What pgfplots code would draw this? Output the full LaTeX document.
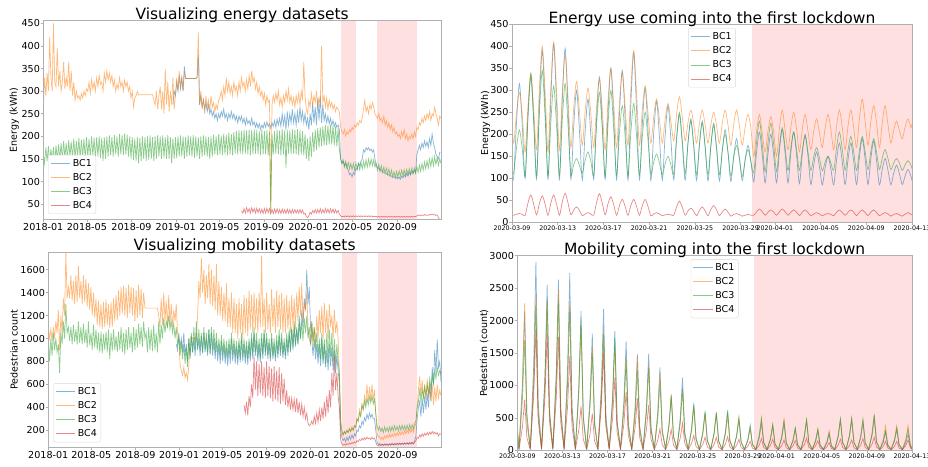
\documentclass[border=0pt]{standalone}
\usepackage{pgfplots}
\pgfplotsset{compat=1.18}
\usepackage{pgfplotstable}
\usepackage{fontspec}
\setmainfont{DejaVu Sans}
\definecolor{cA}{RGB}{31,119,180}
\definecolor{cB}{RGB}{255,127,14}
\definecolor{cC}{RGB}{44,160,44}
\definecolor{cD}{RGB}{214,39,40}
\definecolor{band}{RGB}{255,224,224}
\definecolor{spine}{RGB}{176,176,176}
\tikzset{
  s1/.style={color=cA, line width=0.7pt, opacity=0.55},
  s2/.style={color=cB, line width=0.7pt, opacity=0.55},
  s3/.style={color=cC, line width=0.7pt, opacity=0.55},
  s4/.style={color=cD, line width=0.7pt, opacity=0.55},
}

\pgfplotstableread{
w b1 b2 b3 b4
0 nan 260 160 nan
0.5 nan 330 140 nan
1 nan 290 175 nan
1.5 nan 340 145 nan
2 nan 300 178 nan
2.5 nan 420 142 nan
3 nan 330 172 nan
3.5 nan 300 145 nan
4 nan 450 176 nan
4.5 nan 320 140 nan
5 nan 310 180 nan
5.5 nan 395 148 nan
6 nan 310 182 nan
6.5 nan 345 150 nan
7 nan 300 185 nan
7.5 nan 320 148 nan
8 nan 365 190 nan
8.5 nan 305 152 nan
9 nan 330 185 nan
9.5 nan 310 150 nan
10 nan 365 192 nan
10.5 nan 300 155 nan
11 nan 345 188 nan
11.5 nan 290 152 nan
12 nan 320 195 nan
12.5 nan 280 150 nan
13 nan 300 190 nan
13.5 nan 285 155 nan
14 nan 290 196 nan
14.5 nan 280 152 nan
15 nan 295 192 nan
15.5 nan 285 155 nan
16 nan 300 195 nan
16.5 nan 290 150 nan
17 nan 305 198 nan
17.5 nan 300 155 nan
18 nan 320 195 nan
18.5 nan 295 152 nan
19 nan 325 200 nan
19.5 nan 305 158 nan
20 nan 320 196 nan
20.5 nan 300 150 nan
21 nan 330 198 nan
21.5 nan 310 155 nan
22 nan 335 200 nan
22.5 nan 315 152 nan
23 nan 320 196 nan
23.5 nan 300 145 nan
24 nan 340 198 nan
24.5 nan 320 150 nan
25 nan 345 200 nan
25.5 nan 325 155 nan
26 nan 340 202 nan
26.5 nan 320 158 nan
27 nan 335 198 nan
27.5 nan 310 155 nan
28 nan 325 203 nan
28.5 nan 300 160 nan
29 nan 315 200 nan
29.5 nan 305 155 nan
30 nan 330 205 nan
30.5 nan 310 160 nan
31 nan 320 203 nan
31.5 nan 300 158 nan
32 nan 325 206 nan
32.5 nan 310 160 nan
33 nan 320 204 nan
33.5 nan 300 155 nan
34 nan 310 200 nan
34.5 nan 285 150 nan
35 nan 300 198 nan
35.5 nan 265 148 nan
36 nan 285 195 nan
36.5 nan 290 145 nan
37 nan 300 198 nan
37.5 nan 292 140 nan
38 nan 292 196 nan
38.5 nan 292 145 nan
39 nan 292 200 nan
39.5 nan 292 150 nan
40 nan 292 198 nan
40.5 nan 292 145 nan
41 nan 292 200 nan
41.5 nan 292 148 nan
42 nan 292 202 nan
42.5 nan 292 150 nan
43 nan 292 198 nan
43.5 nan 280 145 nan
44 nan 270 200 nan
44.5 nan 300 150 nan
45 nan 260 203 nan
45.5 nan 290 155 nan
46 nan 310 200 nan
46.5 nan 260 150 nan
47 nan 300 202 nan
47.5 nan 250 152 nan
48 nan 350 198 nan
48.5 nan 270 150 nan
49 nan 320 203 nan
49.5 nan 255 150 nan
50 nan 300 198 nan
50.5 nan 270 140 nan
51 270 330 195 nan
51.5 300 260 150 nan
52 290 290 198 nan
52.5 320 330 152 nan
53 300 300 200 nan
53.5 335 345 155 nan
54 305 310 202 nan
54.5 330 330 155 nan
55 300 300 200 nan
55.5 355 340 150 nan
56 328 328 198 nan
56.5 328 328 155 nan
57 328 328 202 nan
57.5 328 328 158 nan
58 328 328 200 nan
58.5 328 328 155 nan
59 328 328 203 nan
59.5 328 328 152 nan
60 328 328 200 nan
60.5 330 330 155 nan
61 380 430 198 nan
61.5 270 270 150 nan
62 290 300 200 nan
62.5 265 260 155 nan
63 280 285 202 nan
63.5 260 250 158 nan
64 275 290 200 nan
64.5 255 265 155 nan
65 270 280 198 nan
65.5 250 255 150 nan
66 260 290 200 nan
66.5 245 265 155 nan
67 255 275 203 nan
67.5 240 255 160 nan
68 250 270 200 nan
68.5 235 260 158 nan
69 250 280 205 nan
69.5 240 285 160 nan
70 255 300 202 nan
70.5 245 280 158 nan
71 260 310 206 nan
71.5 240 290 160 nan
72 250 330 204 nan
72.5 235 300 158 nan
73 250 320 208 nan
73.5 240 295 160 nan
74 255 310 205 nan
74.5 240 290 158 nan
75 250 320 210 nan
75.5 235 300 162 nan
76 245 310 212 nan
76.5 230 290 160 nan
77 245 320 214 nan
77.5 235 300 162 nan
78 245 330 212 35
78.5 230 310 160 30
79 240 320 215 40
79.5 225 300 162 30
80 240 325 213 42
80.5 228 305 160 32
81 235 335 215 40
81.5 225 310 158 30
82 240 345 214 42
82.5 225 320 160 32
83 232 330 216 40
83.5 220 305 162 30
84 230 320 214 41
84.5 218 295 160 31
85 228 310 212 40
85.5 215 290 158 30
86 225 300 215 39
86.5 218 280 160 29
87 230 295 212 40
87.5 220 270 160 30
88 232 290 214 41
88.5 222 275 158 31
89 228 280 210 40
89.5 218 30 35 28
90 230 270 205 38
90.5 222 290 160 29
91 235 275 212 39
91.5 220 295 162 30
92 238 280 215 40
92.5 225 300 160 30
93 240 270 213 38
93.5 222 285 158 29
94 250 265 216 39
94.5 225 290 160 30
95 245 275 214 38
95.5 215 300 130 29
96 255 280 215 39
96.5 225 305 162 30
97 250 275 213 38
97.5 230 290 160 29
98 260 270 216 38
98.5 230 285 162 30
99 250 265 214 38
99.5 225 290 160 30
100 255 275 216 37
100.5 230 295 158 30
101 265 270 214 38
101.5 235 300 160 30
102 255 280 212 37
102.5 230 365 158 28
103 250 290 205 30
103.5 225 260 150 22
104 240 250 195 20
104.5 215 280 145 24
105 250 265 200 32
105.5 225 295 155 28
106 275 270 210 36
106.5 230 290 165 30
107 265 275 215 38
107.5 225 300 170 30
108 285 265 218 38
108.5 235 285 175 30
109 290 270 220 40
109.5 230 400 178 30
110 270 275 222 38
110.5 235 290 180 30
111 250 265 225 40
111.5 230 285 180 31
112 245 260 224 39
112.5 228 280 182 30
113 240 265 226 40
113.5 225 275 182 31
114 235 260 224 39
114.5 222 270 180 30
115 230 255 222 38
115.5 220 265 178 30
116 225 260 218 36
116.5 215 255 170 28
117 150 220 150 24
117.5 140 210 140 22
118 145 205 148 23
118.5 135 215 132 22
119 140 200 145 24
119.5 130 210 130 22
120 125 205 142 24
120.5 115 215 128 22
121 118 210 140 24
121.5 110 220 126 22
122 120 215 140 24
122.5 115 225 125 22
123 130 220 142 24
123.5 125 230 128 22
124 140 225 140 24
124.5 135 235 126 22
125 145 230 142 24
125.5 150 240 128 22
126 170 260 145 24
126.5 165 280 130 22
127 175 255 148 24
127.5 170 265 132 22
128 175 250 150 24
128.5 168 270 134 22
129 172 260 150 24
129.5 165 275 135 22
130 170 265 148 23
130.5 150 250 132 22
131 135 245 140 23
131.5 130 240 125 21
132 130 250 138 23
132.5 125 235 122 21
133 125 240 135 23
133.5 122 230 120 21
134 120 245 132 23
134.5 118 225 118 21
135 118 235 130 23
135.5 115 220 115 21
136 115 230 128 23
136.5 112 215 112 21
137 112 225 125 23
137.5 110 210 110 21
138 110 220 122 23
138.5 108 205 108 21
139 110 210 122 23
139.5 106 200 110 21
140 110 205 124 23
140.5 105 195 112 21
141 112 210 125 23
141.5 108 200 113 21
142 115 215 126 23
142.5 110 195 114 21
143 118 205 127 23
143.5 112 190 115 21
144 120 200 128 23
144.5 115 195 116 21
145 122 205 130 23
145.5 118 195 117 21
146 125 210 130 23
146.5 120 200 118 22
147 160 220 133 24
147.5 170 215 120 25
148 180 230 136 26
148.5 170 225 122 24
149 185 240 140 26
149.5 175 230 125 25
150 190 245 143 27
150.5 178 235 128 25
151 188 250 146 26
151.5 175 240 130 25
152 195 255 150 27
152.5 180 235 133 26
153 205 250 153 28
153.5 185 245 135 26
154 175 265 155 27
154.5 160 250 138 25
155 155 240 152 26
155.5 150 225 136 20
156 165 245 150 16
156.5 165 240 140 15
}\tabE

\pgfplotstableread{
w b1 b2 b3 b4
0 nan 1100 1000 nan
0.5 nan 1000 800 nan
1 nan 1080 1000 nan
1.5 nan 980 850 nan
2 nan 1100 1050 nan
2.5 nan 1000 900 nan
3 nan 1150 1000 nan
3.5 nan 1050 880 nan
4 nan 1250 950 nan
4.5 nan 900 700 nan
5 nan 1200 1050 nan
5.5 nan 1050 950 nan
6 nan 1350 1150 nan
6.5 nan 1200 1000 nan
7 nan 1750 1300 nan
7.5 nan 1350 1050 nan
8 nan 1450 1100 nan
8.5 nan 1350 980 nan
9 nan 1550 1100 nan
9.5 nan 1330 950 nan
10 nan 1500 1120 nan
10.5 nan 1300 970 nan
11 nan 1550 1080 nan
11.5 nan 1320 950 nan
12 nan 1630 1150 nan
12.5 nan 1350 960 nan
13 nan 1500 1100 nan
13.5 nan 1300 950 nan
14 nan 1550 1130 nan
14.5 nan 1320 960 nan
15 nan 1520 1080 nan
15.5 nan 1280 920 nan
16 nan 1480 1150 nan
16.5 nan 1250 940 nan
17 nan 1450 1050 nan
17.5 nan 1200 900 nan
18 nan 1400 1120 nan
18.5 nan 1180 920 nan
19 nan 1350 1080 nan
19.5 nan 1120 900 nan
20 nan 1330 1050 nan
20.5 nan 1100 880 nan
21 nan 1300 1060 nan
21.5 nan 1080 870 nan
22 nan 1320 1040 nan
22.5 nan 1100 900 nan
23 nan 1340 1060 nan
23.5 nan 1120 880 nan
24 nan 1300 1080 nan
24.5 nan 1090 820 nan
25 nan 1320 1050 nan
25.5 nan 1100 890 nan
26 nan 1350 1080 nan
26.5 nan 1150 900 nan
27 nan 1380 1020 nan
27.5 nan 1160 880 nan
28 nan 1420 1060 nan
28.5 nan 1200 900 nan
29 nan 1450 1100 nan
29.5 nan 1220 880 nan
30 nan 1460 1050 nan
30.5 nan 1200 860 nan
31 nan 1440 1080 nan
31.5 nan 1180 900 nan
32 nan 1470 1100 nan
32.5 nan 1220 920 nan
33 nan 1450 1050 nan
33.5 nan 1200 880 nan
34 nan 1440 1100 nan
34.5 nan 1150 900 nan
35 nan 1420 1080 nan
35.5 nan 1180 920 nan
36 nan 1470 1130 nan
36.5 nan 1200 950 nan
37 nan 1430 1100 nan
37.5 nan 1180 930 nan
38 nan 1400 1150 nan
38.5 nan 1270 1000 nan
39 nan 1265 1050 nan
39.5 nan 1265 880 nan
40 nan 1265 1100 nan
40.5 nan 1265 900 nan
41 nan 1265 1080 nan
41.5 nan 1265 890 nan
42 nan 1265 1120 nan
42.5 nan 1265 900 nan
43 nan 1265 1050 nan
43.5 nan 1265 880 nan
44 nan 1200 1150 nan
44.5 nan 1100 950 nan
45 nan 1350 1120 nan
45.5 nan 1120 1000 nan
46 nan 1400 1180 nan
46.5 nan 1150 1050 nan
47 nan 1330 1150 nan
47.5 nan 1100 1100 nan
48 nan 1380 1200 nan
48.5 nan 1120 1080 nan
49 nan 1300 1150 nan
49.5 nan 1100 1050 nan
50 nan 1250 1130 nan
50.5 nan 1150 1000 nan
51 950 1300 1100 nan
51.5 900 1050 950 nan
52 1050 1000 1000 nan
52.5 920 780 850 nan
53 1000 720 980 nan
53.5 880 680 820 nan
54 1050 750 950 nan
54.5 850 660 780 nan
55 950 700 920 nan
55.5 800 640 750 nan
56 1000 760 1000 nan
56.5 850 1000 820 nan
57 1020 1010 1050 nan
57.5 880 1000 880 nan
58 1000 1010 1100 nan
58.5 850 1000 900 nan
59 1050 1020 1150 nan
59.5 900 1200 920 nan
60 1000 1500 1080 nan
60.5 850 1350 900 nan
61 1020 1700 1050 nan
61.5 870 1400 880 nan
62 1050 1600 1100 nan
62.5 880 1300 900 nan
63 1000 1550 1050 nan
63.5 850 1350 880 nan
64 1080 1650 1080 nan
64.5 860 1300 870 nan
65 1050 1600 1100 nan
65.5 850 1280 900 nan
66 1000 1550 1080 nan
66.5 820 1250 880 nan
67 980 1650 1050 nan
67.5 800 1200 870 nan
68 950 1500 1000 nan
68.5 780 1200 850 nan
69 980 1450 1030 nan
69.5 800 1150 860 nan
70 950 1400 1000 nan
70.5 780 1150 840 nan
71 920 1480 980 nan
71.5 760 1100 830 nan
72 950 1350 1000 nan
72.5 780 1100 850 nan
73 1000 1400 1050 nan
73.5 800 1050 860 nan
74 950 1350 1000 nan
74.5 780 1050 840 nan
75 930 1300 980 nan
75.5 770 1000 820 nan
76 960 1350 1000 nan
76.5 790 1050 830 nan
77 1000 1300 1050 nan
77.5 800 1000 850 nan
78 950 1380 1000 420
78.5 780 1050 830 350
79 940 1350 980 450
79.5 770 1020 820 330
80 970 1420 1000 500
80.5 800 1080 840 400
81 1000 1380 1050 600
81.5 820 1050 860 480
82 1050 1400 1100 850
82.5 850 1080 880 550
83 980 1350 1050 800
83.5 800 1050 850 500
84 950 1400 1000 780
84.5 790 1100 830 520
85 1000 1720 1050 800
85.5 820 1100 860 500
86 1050 1350 1080 750
86.5 850 1050 880 480
87 1000 1400 1050 800
87.5 820 1080 860 500
88 960 1300 1000 760
88.5 800 1050 830 480
89 1000 1430 1050 740
89.5 820 1100 850 450
90 950 1350 1000 760
90.5 800 1050 840 470
91 980 1420 1030 720
91.5 830 1100 860 450
92 1020 1380 1080 750
92.5 850 1080 880 430
93 1000 1400 1050 700
93.5 830 1050 860 450
94 960 1350 1000 650
94.5 820 1050 850 420
95 1000 1380 1050 550
95.5 850 1080 880 400
96 1050 1330 1080 500
96.5 880 1050 900 380
97 1080 1380 1100 480
97.5 900 1100 920 380
98 1100 1350 1150 470
98.5 930 1080 950 360
99 1080 1400 1100 480
99.5 950 1150 950 350
100 1150 1450 1200 450
100.5 1000 1200 1000 330
101 1250 1480 1150 430
101.5 1100 1150 980 320
102 1350 1300 1180 400
102.5 1250 1250 1050 300
103 1600 1400 1200 350
103.5 1300 1100 1000 260
104 1450 1000 1100 240
104.5 1100 950 950 250
105 1000 1150 1150 280
105.5 850 950 980 250
106 1000 1100 1100 320
106.5 820 950 900 260
107 950 1200 1050 350
107.5 780 1000 850 270
108 950 1250 1000 380
108.5 760 1050 820 280
109 1000 1280 1050 400
109.5 780 1000 800 300
110 950 1310 1000 450
110.5 750 1050 780 320
111 900 1250 1050 500
111.5 720 1000 800 350
112 950 1300 1080 550
112.5 760 1100 850 400
113 920 1200 1050 700
113.5 720 1000 800 500
114 900 1250 1000 850
114.5 700 1050 780 550
115 850 1150 950 700
115.5 720 1000 800 500
116 600 700 700 400
116.5 200 250 300 120
117 140 180 200 80
117.5 110 160 160 70
118 130 190 190 80
118.5 100 170 170 70
119 140 200 200 85
119.5 110 180 180 75
120 150 220 210 90
120.5 120 190 190 80
121 160 230 220 95
121.5 130 200 200 85
122 170 240 240 100
122.5 150 220 230 90
123 200 300 300 110
123.5 190 280 280 100
124 240 380 350 120
124.5 220 330 320 110
125 280 430 420 130
125.5 250 380 380 115
126 310 500 450 135
126.5 280 420 400 120
127 340 600 480 140
127.5 300 450 420 125
128 350 580 490 135
128.5 310 460 440 120
129 340 600 500 140
129.5 300 470 430 125
130 300 550 470 130
130.5 200 350 350 100
131 100 180 250 70
131.5 75 140 200 65
132 85 150 230 75
132.5 70 120 190 68
133 80 140 220 78
133.5 68 120 180 70
134 82 150 230 80
134.5 70 130 190 72
135 80 160 225 80
135.5 68 135 185 72
136 82 165 230 82
136.5 70 140 190 74
137 85 170 235 84
137.5 72 145 195 75
138 84 175 240 85
138.5 72 150 200 76
139 86 180 235 86
139.5 74 155 195 77
140 88 185 240 88
140.5 75 160 200 78
141 88 190 245 88
141.5 76 165 205 78
142 90 195 240 90
142.5 78 170 200 80
143 92 200 245 90
143.5 78 175 205 80
144 95 210 250 92
144.5 80 180 210 82
145 98 215 250 92
145.5 82 185 215 82
146 110 230 260 95
146.5 150 260 280 110
147 300 400 400 140
147.5 400 550 450 130
148 450 670 550 160
148.5 320 500 450 140
149 480 640 560 170
149.5 350 480 480 150
150 500 600 580 175
150.5 380 470 500 155
151 520 650 600 180
151.5 400 480 520 160
152 600 620 650 185
152.5 450 460 560 165
153 750 600 680 190
153.5 600 420 600 170
154 900 580 720 185
154.5 700 450 650 165
155 990 600 750 180
155.5 750 480 680 150
156 800 550 720 170
156.5 620 500 700 165
}\tabM

\pgfplotstableread{
d b1 b2 b3 b4
0 110 220 118 17
0.15 102 180 112 16
0.4 230 249 171 18
0.65 315 295 210 20
0.9 219 243 166 18
1.15 100 160 105 16
1.4 238 265 246 44
1.65 330 335 340 62
1.9 227 256 234 41
2.15 98 165 105 17
2.4 273 306 249 43
2.65 390 400 345 60
2.9 259 294 237 41
3.15 98 160 106 16
3.4 282 310 228 44
3.65 405 410 310 62
3.9 267 298 218 41
4.15 97 165 106 16
4.4 276 294 231 46
4.65 395 380 315 66
4.9 261 283 221 44
5.15 98 170 110 17
5.4 219 260 131 28
5.65 300 320 145 35
5.9 209 253 129 27
6.15 96 175 112 15
6.4 206 253 141 19
6.65 280 305 160 22
6.9 197 247 138 19
7.15 97 170 108 16
7.4 237 263 220 45
7.65 330 325 295 65
7.9 225 255 211 43
8.15 98 165 105 17
8.4 249 276 222 42
8.65 350 350 300 58
8.9 237 267 212 40
9.15 97 170 107 16
9.4 246 272 202 38
9.65 345 340 265 52
9.9 233 264 194 36
10.15 96 175 106 16
10.4 269 304 204 38
10.65 385 390 270 52
10.9 255 293 196 36
11.15 97 175 108 16
11.4 222 256 193 38
11.65 305 310 250 52
11.9 211 249 186 36
12.15 95 180 110 15
12.4 203 240 137 19
12.65 275 280 155 22
12.9 194 235 135 19
13.15 96 180 108 15
13.4 197 234 133 17
13.65 265 270 150 18
13.9 189 230 131 17
14.15 97 185 110 16
14.4 186 245 194 35
14.65 245 285 250 48
14.9 178 240 187 34
15.15 96 185 110 16
15.4 179 227 182 26
15.65 235 255 230 32
15.9 172 224 176 25
16.15 95 180 108 15
16.4 176 225 178 27
16.65 230 255 225 35
16.9 169 221 172 26
17.15 94 180 108 15
17.4 173 222 175 29
17.65 225 250 220 38
17.9 166 219 170 28
18.15 94 180 108 15
18.4 164 225 163 24
18.65 210 255 200 30
18.9 158 221 159 23
19.15 93 175 105 14
19.4 151 223 147 18
19.65 190 255 175 20
19.9 146 219 144 17
20.15 95 175 104 14
20.4 143 217 141 16
20.65 175 245 165 18
20.9 139 214 138 16
21.15 92 150 112 16
21.4 160 207 183 24
21.65 205 245 230 30
21.9 154 202 177 24
22.15 90 160 115 16
22.4 156 208 181 23
22.65 200 240 225 28
22.9 151 204 176 23
23.15 90 150 115 16
23.4 162 213 175 24
23.65 210 255 215 30
23.9 156 208 170 24
24.15 90 165 118 16
24.4 159 216 170 23
24.65 205 250 205 28
24.9 153 212 166 23
25.15 88 160 118 15
25.4 155 211 164 23
25.65 200 245 195 28
25.9 150 207 160 22
26.15 86 165 118 15
26.4 130 207 149 19
26.65 160 235 170 22
26.9 127 204 147 19
27.15 85 170 117 15
27.4 124 215 137 18
27.65 150 245 150 20
27.9 121 211 135 18
28.15 85 165 118 15
28.4 142 219 170 23
28.65 180 255 205 28
28.9 137 215 166 22
29.15 86 165 118 16
29.4 142 219 164 23
29.65 180 255 195 28
29.9 138 215 160 23
30.15 86 170 118 15
30.4 148 236 164 23
30.65 190 280 195 28
30.9 143 230 160 22
31.15 86 175 120 15
31.4 145 229 162 23
31.65 185 265 190 28
31.9 140 225 159 22
32.15 85 170 120 15
32.4 121 227 147 19
32.65 145 265 165 22
32.9 118 222 145 19
33.15 85 180 120 14
33.4 112 210 135 18
33.65 130 230 145 20
33.9 110 208 134 17
34.15 86 190 118 14
34.4 106 217 131 19
34.65 120 235 140 22
34.9 105 215 130 18
35 95 225 122 17
}\tabZE

\pgfplotstableread{
d b1 b2 b3 b4
0 300 400 300 100
0.15 15 35 25 10
0.45 968 1022 765 351
0.65 2150 2270 1700 780
0.85 538 568 425 195
1.15 15 35 25 10
1.45 1305 1080 1013 833
1.65 2900 2400 2250 1850
1.85 725 600 563 463
2.15 15 35 25 10
2.45 1148 1035 1035 810
2.65 2550 2300 2300 1800
2.85 638 575 575 450
3.15 15 35 25 10
3.45 1184 1116 1035 788
3.65 2630 2480 2300 1750
3.85 658 620 575 438
4.15 15 35 25 10
4.45 1229 1035 990 653
4.65 2730 2300 2200 1450
4.85 683 575 550 363
5.15 15 35 25 10
5.45 968 855 900 306
5.65 2150 1900 2000 680
5.85 538 475 500 170
6.15 15 35 25 10
6.45 810 720 675 257
6.65 1800 1600 1500 570
6.85 450 400 375 143
7.15 15 35 25 10
7.45 981 824 810 675
7.65 2180 1830 1800 1500
7.85 545 458 450 375
8.15 15 35 25 10
8.45 828 720 779 504
8.65 1840 1600 1730 1120
8.85 460 400 433 280
9.15 15 35 25 10
9.45 756 644 630 405
9.65 1680 1430 1400 900
9.85 420 358 350 225
10.15 15 35 25 10
10.45 666 653 549 360
10.65 1480 1450 1220 800
10.85 370 363 305 200
11.15 15 35 25 10
11.45 671 594 576 315
11.65 1490 1320 1280 700
11.85 373 330 320 175
12.15 15 35 25 10
12.45 576 540 473 149
12.65 1280 1200 1050 330
12.85 320 300 263 83
13.15 15 35 25 10
13.45 383 392 374 144
13.65 850 870 830 320
13.85 213 218 208 80
14.15 15 35 25 10
14.45 504 419 428 189
14.65 1120 930 950 420
14.85 280 233 238 105
15.15 10 20 15 8
15.45 329 306 311 104
15.65 730 680 690 230
15.85 183 170 173 58
16.15 10 20 15 8
16.45 261 252 275 90
16.65 580 560 610 200
16.85 145 140 153 50
17.15 10 20 15 8
17.45 266 257 257 90
17.65 590 570 570 200
17.85 148 143 143 50
18.15 10 20 15 8
18.45 266 234 279 95
18.65 590 520 620 210
18.85 148 130 155 53
19.15 10 20 15 8
19.45 212 225 230 77
19.65 470 500 510 170
19.85 118 125 128 43
20.15 10 20 15 8
20.45 176 158 153 63
20.65 390 350 340 140
20.85 98 88 85 35
21.15 10 20 15 8
21.45 189 212 225 81
21.65 420 470 500 180
21.85 105 118 125 45
22.15 10 20 15 8
22.45 167 180 180 77
22.65 370 400 400 170
22.85 93 100 100 43
23.15 10 20 15 8
23.45 189 212 207 72
23.65 420 470 460 160
23.85 105 118 115 40
24.15 10 20 15 8
24.45 149 149 158 68
24.65 330 330 350 150
24.85 83 83 88 38
25.15 10 20 15 8
25.45 207 212 212 86
25.65 460 470 470 190
25.85 115 118 118 48
26.15 10 20 15 8
26.45 135 149 149 68
26.65 300 330 330 150
26.85 75 83 83 38
27.15 10 20 15 8
27.45 113 135 122 54
27.65 250 300 270 120
27.85 63 75 68 30
28.15 10 20 15 8
28.45 207 212 221 77
28.65 460 470 490 170
28.85 115 118 123 43
29.15 10 20 15 8
29.45 212 216 225 72
29.65 470 480 500 160
29.85 118 120 125 40
30.15 10 20 15 8
30.45 194 207 216 81
30.65 430 460 480 180
30.85 108 115 120 45
31.15 10 20 15 8
31.45 225 239 248 90
31.65 500 530 550 200
31.85 125 133 138 50
32.15 10 20 15 8
32.45 126 171 135 63
32.65 280 380 300 140
32.85 70 95 75 35
33.15 10 20 15 8
33.45 144 171 158 63
33.65 320 380 350 140
33.85 80 95 88 35
34.15 10 20 15 8
34.45 113 171 149 72
34.65 250 380 330 160
34.85 63 95 83 40
35 20 40 30 15
}\tabZM

\pgfplotsset{
  panel/.style={
    scale only axis, anchor=south west, axis on top,
    axis line style={spine, line width=0.6pt},
    tick pos=left, tick align=outside, major tick length=2.7pt,
    tick style={spine, line width=0.6pt},
    tick label style={font=\fontsize{9.6}{11}\selectfont},
    xticklabel style={inner sep=1pt},
    yticklabel style={inner sep=0.5pt},
    /pgf/number format/assume math mode=true,
    /pgf/number format/1000 sep={},
    title style={font=\fontsize{15.5}{18}\selectfont, at={(0.5,1)}, anchor=base, yshift=-5pt},
    ylabel style={font=\fontsize{9.5}{11}\selectfont, anchor=center},
    legend cell align=left,
    legend image post style={xscale=1.15},
    legend style={draw=black!15, rounded corners=2pt, fill=white, text=black,
      font=\fontsize{9.5}{11}\selectfont, row sep=1.5pt, inner sep=2pt},
    unbounded coords=discard,
  },
  overx/.style={xmin=0, xmax=156.5,
    xtick={0,17.14,34.71,52.14,69.29,86.86,104.29,121.57,139.14},
    xticklabels={2018-01,2018-05,2018-09,2019-01,2019-05,2019-09,2020-01,2020-05,2020-09}},
  zoomx/.style={xmin=0, xmax=35,
    xtick={0,4,8,12,16,20,23,27,31,35},
    xticklabels={2020-03-09,2020-03-13,2020-03-17,2020-03-21,2020-03-25,2020-03-29,2020-04-01,2020-04-05,2020-04-09,2020-04-13},
    xticklabel style={font=\fontsize{6.3}{7}\selectfont}},
}

\begin{document}
\begin{tikzpicture}
\path[use as bounding box] (0,0) rectangle (928pt,466pt);

% Panel A: energy overview
\begin{axis}[panel, overx, at={(43.3pt,247pt)}, width=397.7pt, height=198.3pt,
  ymin=17, ymax=456, ytick={50,100,...,450},
  title={Visualizing energy datasets},
  ylabel={Energy (kWh)}, ylabel style={at={(axis description cs:-0.073,0.5)}},
  legend style={at={(0,0)}, anchor=south west, xshift=5pt, yshift=5pt}]
\addplot[draw=none, fill=band, forget plot] coordinates {(117,17) (117,456) (123,456) (123,17)};
\addplot[draw=none, fill=band, forget plot] coordinates {(131.2,17) (131.2,456) (146.9,456) (146.9,17)};
\addplot[s1] table[x=w, y=b1] {\tabE};
\addplot[s2] table[x=w, y=b2] {\tabE};
\addplot[s3] table[x=w, y=b3] {\tabE};
\addplot[s4] table[x=w, y=b4] {\tabE};
\legend{BC1,BC2,BC3,BC4}
\end{axis}

% Panel B: energy zoom
\begin{axis}[panel, zoomx, at={(512pt,243.7pt)}, width=400pt, height=198pt,
  ymin=0, ymax=450, ytick={0,50,...,450},
  title={Energy use coming into the first lockdown},
  ylabel={Energy (kWh)}, ylabel style={at={(axis description cs:-0.066,0.5)}},
  legend style={at={(0.5,1)}, anchor=north, yshift=-4pt}]
\addplot[draw=none, fill=band, forget plot] coordinates {(21,0) (21,450) (35,450) (35,0)};
\addplot[s1, smooth, tension=0.5] table[x=d, y=b1] {\tabZE};
\addplot[s2, smooth, tension=0.5] table[x=d, y=b2] {\tabZE};
\addplot[s3, smooth, tension=0.5] table[x=d, y=b3] {\tabZE};
\addplot[s4, smooth, tension=0.5] table[x=d, y=b4] {\tabZE};
\legend{BC1,BC2,BC3,BC4}
\end{axis}

% Panel C: mobility overview
\begin{axis}[panel, overx, at={(48.3pt,18.7pt)}, width=392.7pt, height=195.3pt,
  ymin=52, ymax=1754, ytick={200,400,...,1600},
  title={Visualizing mobility datasets},
  ylabel={Pedestrian count}, ylabel style={at={(axis description cs:-0.087,0.5)}},
  legend style={at={(0,0)}, anchor=south west, xshift=5pt, yshift=5pt}]
\addplot[draw=none, fill=band, forget plot] coordinates {(117,52) (117,1754) (123,1754) (123,52)};
\addplot[draw=none, fill=band, forget plot] coordinates {(131.2,52) (131.2,1754) (146.9,1754) (146.9,52)};
\addplot[s1] table[x=w, y=b1] {\tabM};
\addplot[s2] table[x=w, y=b2] {\tabM};
\addplot[s3] table[x=w, y=b3] {\tabM};
\addplot[s4] table[x=w, y=b4] {\tabM};
\legend{BC1,BC2,BC3,BC4}
\end{axis}

% Panel D: mobility zoom
\begin{axis}[panel, zoomx, at={(517.3pt,15.7pt)}, width=394.7pt, height=194.6pt,
  ymin=0, ymax=3000, ytick={0,500,...,3000},
  title={Mobility coming into the first lockdown},
  ylabel={Pedestrian (count)}, ylabel style={at={(axis description cs:-0.084,0.5)}},
  legend style={at={(0.5,1)}, anchor=north, yshift=-3.5pt}]
\addplot[draw=none, fill=band, forget plot] coordinates {(21,0) (21,3000) (35,3000) (35,0)};
\addplot[s1] table[x=d, y=b1] {\tabZM};
\addplot[s2] table[x=d, y=b2] {\tabZM};
\addplot[s3] table[x=d, y=b3] {\tabZM};
\addplot[s4] table[x=d, y=b4] {\tabZM};
\legend{BC1,BC2,BC3,BC4}
\end{axis}
\end{tikzpicture}
\end{document}
